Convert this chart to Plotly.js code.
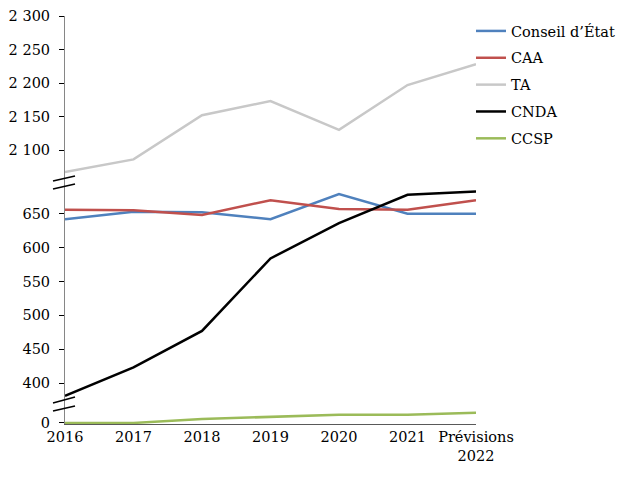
<!DOCTYPE html>
<html>
<head>
<meta charset="utf-8">
<script src="https://cdn.plot.ly/plotly-3.0.1.min.js"></script>
<style>html,body{margin:0;padding:0;background:#fff;}#chart{width:625px;height:479px;}</style>
</head>
<body>
<div id="chart"></div>
<script>
// ---- data ----
var years = ['2016', '2017', '2018', '2019', '2020', '2021', 'Prévisions<br>2022'];
var seriesNames = ['Conseil d\u2019État', 'CAA', 'TA', 'CNDA', 'CCSP'];
var conseilEtat = [642, 653, 652, 642, 679, 650, 650];
var caa = [656, 655, 648, 670, 657, 656, 670];
var ta = [2067, 2086, 2152, 2173, 2130, 2197, 2228];
var cnda = [381, 423, 477, 584, 636, 678, 683];
var ccsp = [0, 0, 6, 9, 12, 12, 15];
var topTicks = [2100, 2150, 2200, 2250, 2300];
var midTicks = [400, 450, 500, 550, 600, 650];
var lowTicks = [0];

// ---- geometry helpers (pixel layout of plot area) ----
var L = 65, R = 476, T = 16, B = 424;
var W = R - L, H = B - T;
function px(x) { return (x - L) / W; }
function py(y) { return (B - y) / H; }

var FONT = 'DejaVu Serif';
var FS = 14.5;
var colors = ['#4F81BD', '#C0504D', '#C8C8C8', '#000000', '#9BBB59'];

var traces = [
  {y: conseilEtat, yaxis: 'y2', name: seriesNames[0], color: colors[0]},
  {y: caa, yaxis: 'y2', name: seriesNames[1], color: colors[1]},
  {y: ta, yaxis: 'y', name: seriesNames[2], color: colors[2]},
  {y: cnda, yaxis: 'y2', name: seriesNames[3], color: colors[3]},
  {y: ccsp, yaxis: 'y3', name: seriesNames[4], color: colors[4]}
].map(function (t, i) {
  return {
    type: 'scatter', mode: 'lines', x: years, y: t.y, yaxis: t.yaxis, xaxis: 'x',
    name: t.name, legendgroup: 'g' + i,
    line: {color: t.color, width: 2.5},
    hoverinfo: 'skip'
  };
});

var axisCommon = {
  showline: true, linecolor: '#868686', linewidth: 1,
  ticks: 'outside', ticklen: 5, tickcolor: '#000', tickwidth: 1,
  showgrid: false, zeroline: false, anchor: 'x',
  tickfont: {family: FONT, size: FS, color: '#000'},
  ticklabelstandoff: 6, fixedrange: true
};

var splitTop = py(184), splitLow = py(404);

var layout = {
  width: 625, height: 479,
  margin: {l: L, r: 625 - R, t: T, b: 479 - B, autoexpand: false},
  paper_bgcolor: '#fff', plot_bgcolor: '#fff',
  font: {family: FONT, size: FS, color: '#000'},
  separators: ', ',
  showlegend: true,
  legend: {
    x: px(471), xanchor: 'left', y: py(15), yanchor: 'top',
    font: {family: FONT, size: FS, color: '#000'},
    traceorder: 'grouped', tracegroupgap: 5,
    bgcolor: 'rgba(0,0,0,0)', borderwidth: 0
  },
  xaxis: {
    type: 'category', range: [0, 6], anchor: 'y3',
    showline: true, linecolor: '#595959', linewidth: 1,
    ticks: '', showgrid: false, zeroline: false,
    tickfont: {family: FONT, size: FS, color: '#000'},
    fixedrange: true
  },
  yaxis: Object.assign({}, axisCommon, {
    domain: [splitTop, 1], range: [2049.3, 2300],
    tickvals: topTicks, separatethousands: true, tickformat: ',d'
  }),
  yaxis2: Object.assign({}, axisCommon, {
    domain: [splitLow, splitTop], range: [369, 693.9],
    tickvals: midTicks
  }),
  yaxis3: Object.assign({}, axisCommon, {
    domain: [0, splitLow], range: [-1.5, 28],
    tickvals: lowTicks
  }),
  shapes: [
    [53, 181, 75, 176], [53, 189, 75, 184],
    [53, 403, 75, 397], [53, 411, 75, 406]
  ].map(function (s) {
    return {type: 'line', xref: 'paper', yref: 'paper',
      x0: px(s[0]), y0: py(s[1]), x1: px(s[2]), y1: py(s[3]),
      line: {color: '#000', width: 1.5}, layer: 'above'};
  })
};

Plotly.newPlot('chart', traces, layout, {displayModeBar: false, staticPlot: true});
</script>
</body>
</html>
